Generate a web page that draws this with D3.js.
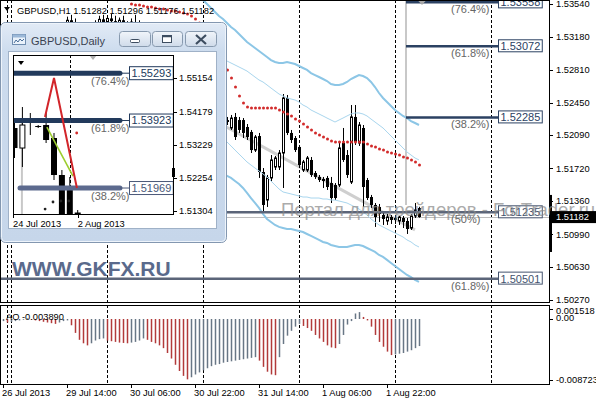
<!DOCTYPE html>
<html><head><meta charset="utf-8">
<script src="https://cdn.jsdelivr.net/npm/d3@7/dist/d3.min.js"></script>
<style>
html,body{margin:0;padding:0;background:#fff;}
svg{display:block;}
text{font-family:"Liberation Sans",Arial,sans-serif;}
</style></head><body>
<svg id="chart" width="596" height="400"></svg>
<script>
// ================= DATA =================
const headerText = "GBPUSD,H1 1.51282 1.51296 1.51176 1.51182";
const barStart = 14; // bar index of first candle
const barOpen = [1.5318,1.5320,1.5325,1.5336,1.5330,1.5324,1.5318,1.5322,1.5327,1.5331,
1.5333,1.5337,1.5334,1.5338,1.5335,1.5330,1.5336,1.5332,1.5322,1.5334,
1.5330,1.5316,1.5304,1.5295,1.5286,1.5280,1.5270,1.5260,1.5252,1.5258,
1.5249,1.5240,1.5244,1.5247,1.5242,1.5236,1.5240,1.5234,1.5229,1.5233,
1.5230,1.5225,1.52256,1.52168,1.52290,1.52256,1.52256,1.52179,1.52124,1.51924,
1.52079,1.51681,1.51371,1.51615,1.51736,1.51736,1.51891,1.52500,1.52113,1.52057,
1.51958,1.51703,1.51703,1.51814,1.51670,1.51626,1.51604,1.51615,1.51559,1.51537,
1.51537,1.52002,1.51869,1.51570,1.52290,1.52002,1.52168,1.51592,1.51404,1.51316,
1.51294,1.51205,1.51139,1.51183,1.51172,1.51139,1.51172,1.51139,1.51061,1.51194,
1.51282];
const barHigh = [1.5324,1.5328,1.5340,1.5342,1.5338,1.5330,1.5326,1.5330,1.5334,1.5336,
1.5341,1.5342,1.5340,1.5343,1.5341,1.5339,1.5341,1.5335,1.5338,1.5342,
1.5336,1.5320,1.5310,1.5300,1.5292,1.5285,1.5276,1.5268,1.5262,1.5264,
1.5256,1.5248,1.5252,1.5254,1.5250,1.5244,1.5246,1.5240,1.5238,1.5240,
1.5236,1.5232,1.52290,1.52312,1.52334,1.52290,1.52278,1.52212,1.52146,1.52090,
1.52113,1.51725,1.51648,1.51869,1.51858,1.51924,1.52544,1.52533,1.52146,1.52079,
1.51980,1.51814,1.51858,1.51847,1.51692,1.51648,1.51626,1.51637,1.51626,1.51559,
1.52002,1.52168,1.51924,1.52422,1.52422,1.52234,1.52201,1.51615,1.51427,1.51338,
1.51327,1.51227,1.51216,1.51205,1.51194,1.51194,1.51194,1.51172,1.51216,1.51338,
1.51296];
const barLow = [1.5312,1.5316,1.5322,1.5326,1.5320,1.5315,1.5310,1.5318,1.5320,1.5324,
1.5328,1.5330,1.5326,1.5331,1.5327,1.5325,1.5329,1.5318,1.5319,1.5328,
1.5312,1.5300,1.5290,1.5282,1.5274,1.5265,1.5255,1.5248,1.5240,1.5245,
1.5236,1.5230,1.5236,1.5238,1.5232,1.5228,1.5230,1.5224,1.5222,1.5226,
1.5220,1.5218,1.52201,1.52146,1.52035,1.52113,1.52057,1.52035,1.51891,1.51902,
1.51615,1.51238,1.51294,1.51570,1.51703,1.51703,1.51504,1.52090,1.52002,1.51902,
1.51725,1.51681,1.51681,1.51626,1.51604,1.51570,1.51504,1.51482,1.51338,1.51371,
1.51515,1.51792,1.51615,1.51548,1.51980,1.51969,1.51294,1.51371,1.51283,1.51073,
1.51128,1.51095,1.51095,1.51106,1.51106,1.51095,1.51061,1.50995,1.51039,1.51172,
1.51176];
const barClose = [1.5320,1.5325,1.5336,1.5330,1.5324,1.5318,1.5322,1.5327,1.5331,1.5333,
1.5337,1.5334,1.5338,1.5335,1.5330,1.5336,1.5332,1.5322,1.5334,1.5330,
1.5316,1.5304,1.5295,1.5286,1.5280,1.5270,1.5260,1.5252,1.5258,1.5249,
1.5240,1.5244,1.5247,1.5242,1.5236,1.5240,1.5234,1.5229,1.5233,1.5230,
1.5225,1.5227,1.52234,1.52278,1.52068,1.52146,1.52113,1.52068,1.51924,1.52068,
1.51681,1.51316,1.51615,1.51814,1.51836,1.51891,1.52500,1.52113,1.52035,1.51924,
1.51758,1.51792,1.51836,1.51648,1.51626,1.51592,1.51581,1.51515,1.51393,1.51393,
1.51947,1.51814,1.51648,1.52290,1.52013,1.52201,1.51515,1.51393,1.51316,1.51183,
1.51216,1.51161,1.51183,1.51150,1.51150,1.51183,1.51128,1.51050,1.51194,1.51261,
1.51182];

const sarStart = 32;
const sarValues = [1.53540,1.53529,1.53529,1.53518,1.53507,1.53507,1.53495,1.53484,1.53484,1.53473,1.53462,1.53462,1.53451,1.53440,1.53429,
1.53407,1.53374,1.53329,1.53274,1.53208,1.53130,1.53042,1.52953,1.52876,
1.52810,1.52721,1.52621,1.52522,1.52445,1.52400,
1.52389,1.52389,1.52389,1.52389,1.52389,1.52389,1.52389,
1.52367,1.52345,1.52323,1.52301,1.52267,1.52245,1.52212,1.52179,1.52146,1.52113,1.52090,1.52068,1.52046,1.52024,
1.52013,1.52013,1.52013,1.52013,1.52013,1.52013,1.52013,1.52013,
1.51991,1.51969,1.51958,1.51935,1.51924,1.51902,1.51891,1.51880,1.51869,1.51847,1.51836,1.51814,1.51792,1.51758];

const upperOuterStart = 50;
const upperOuter = [1.53584,1.53540,1.53495,1.53451,1.53407,1.53374,1.53329,1.53285,1.53252,1.53208,
1.53164,1.53119,1.53086,1.53053,1.53020,1.52987,1.52953,1.52920,1.52898,1.52887,
1.52887,1.52898,1.52887,1.52876,1.52854,1.52832,1.52810,1.52776,1.52754,1.52732,
1.52710,1.52688,1.52655,1.52644,1.52644,1.52655,1.52677,1.52710,1.52732,1.52754,
1.52743,1.52721,1.52677,1.52621,1.52555,1.52500,1.52456,1.52411,1.52367,1.52334,
1.52301,1.52278,1.52245,1.52223,1.52201];
const bandStart = 55;
const upperInner = [1.52931,1.52909,1.52887,1.52865,1.52843,1.52821,1.52798,1.52765,1.52732,1.52699,
1.52677,1.52644,1.52610,1.52577,1.52544,1.52522,1.52500,1.52489,1.52478,1.52456,
1.52422,1.52400,1.52367,1.52345,1.52323,1.52301,1.52278,1.52256,1.52234,1.52256,
1.52278,1.52301,1.52323,1.52334,1.52334,1.52323,1.52301,1.52267,1.52234,1.52201,
1.52168,1.52124,1.52079,1.52035,1.51991,1.51947,1.51902,1.51869,1.51836,1.51814];
const lowerInner = [1.52057,1.52013,1.51969,1.51924,1.51880,1.51836,1.51792,1.51758,1.51725,1.51692,
1.51659,1.51626,1.51581,1.51537,1.51493,1.51460,1.51449,1.51438,1.51427,1.51416,
1.51404,1.51404,1.51393,1.51393,1.51393,1.51382,1.51382,1.51371,1.51371,1.51360,
1.51349,1.51338,1.51316,1.51294,1.51272,1.51238,1.51205,1.51161,1.51128,1.51095,
1.51073,1.51050,1.51028,1.51006,1.50984,1.50962,1.50929,1.50907,1.50873,1.50851];
const lowerOuter = [1.51659,1.51637,1.51615,1.51581,1.51548,1.51504,1.51449,1.51393,1.51338,1.51283,
1.51216,1.51161,1.51128,1.51095,1.51073,1.51061,1.51050,1.51050,1.51039,1.51028,
1.51017,1.50995,1.50973,1.50951,1.50929,1.50907,1.50896,1.50873,1.50862,1.50851,
1.50851,1.50851,1.50862,1.50873,1.50873,1.50862,1.50840,1.50818,1.50796,1.50763,
1.50741,1.50708,1.50674,1.50641,1.50608,1.50575,1.50541,1.50519,1.50486,1.50464];

const aoValues = [-0.0003,-0.0005,-0.0004,-0.0003,-0.0002,-0.0001,0.0001,-0.0001,-0.0002,-0.0003,
-0.0004,-0.0005,-0.0006,-0.0007,-0.0005,-0.0003,-0.0002,-0.0009,-0.0020,-0.0030,
-0.0035,-0.0038,-0.0035,-0.0031,-0.0029,-0.0028,-0.0031,-0.0032,-0.0033,-0.0034,
-0.00345,-0.0035,-0.0034,-0.0033,-0.0031,-0.0028,-0.0030,-0.0033,-0.0035,-0.0038,
-0.0042,-0.0049,-0.0057,-0.0066,-0.0075,-0.0082,-0.0087,-0.0084,-0.0080,-0.0077,
-0.0074,-0.0071,-0.0068,-0.0066,-0.0065,-0.0063,-0.0062,-0.0061,-0.0060,-0.0059,
-0.0058,-0.0057,-0.0056,-0.0055,-0.0060,-0.0069,-0.0076,-0.0080,-0.0081,-0.0055,
-0.0036,-0.0024,-0.0017,-0.0011,-0.0007,-0.0010,-0.0013,-0.0017,-0.0023,-0.0028,
-0.0033,-0.0038,-0.0041,-0.0042,-0.0036,-0.0023,-0.0008,-0.0003,0.0008,0.0010,
0.0003,-0.0002,-0.0011,-0.0023,-0.0033,-0.0040,-0.0047,-0.0052,-0.0051,-0.0050,
-0.0049,-0.0047,-0.0045,-0.0042,-0.0039];
const aoLabel = "AO -0.003890";

const priceTicks = [1.53540,1.53180,1.52810,1.52450,1.52090,1.51720,1.51360,1.50990,1.50630,1.50270];
const aoTicks = [0.001518,0.0,-0.008723];
const aoTickLabels = ["0.001518","0.00","-0.008723"];
const timeLabels = ["26 Jul 2013","29 Jul 14:00","30 Jul 06:00","30 Jul 22:00","31 Jul 14:00","1 Aug 06:00","1 Aug 22:00"];
const timeLabelIdx = [0,16,32,48,64,80,96];
const daySeparatorIdx = [1,2,26,50,74,98,122];

const fibShortPrices = [1.53558,1.53072,1.52285];
const fibShortLabels = ["(76.4%)","(61.8%)","(38.2%)"];
const fibLongPrices = [1.51235,1.50501];
const fibLongLabels = ["(50%)","(61.8%)"];
const fibShortStartIdx = 100.75, fibLongStartIdx = -0.75, fibEndIdx = 123.75;
const fibAnchorPrices = [1.53600,1.51316];
const trendIdx = [50,103], trendPrice = [1.52320,1.51040];
const bidPrice = 1.51182;
const rangeMarker = [1.51427,1.50796];
const shiftIdx = 104.75;

const watermark = "Портал для трейдеров - ForTrader.ru";
const brand = "WWW.GKFX.RU";

// daily inset
const dailyTitle = "GBPUSD,Daily";
const dailyOpen  = [1.53706,1.53127,1.53909,1.53764,1.53793,1.53417,1.52346,1.51911,1.51260];
const dailyHigh  = [1.53880,1.54314,1.54141,1.53793,1.54141,1.53562,1.52490,1.52288,1.51332];
const dailyLow   = [1.52838,1.52577,1.53504,1.53706,1.53272,1.52201,1.51000,1.50900,1.51000];
const dailyClose = [1.53127,1.53793,1.53880,1.53735,1.53359,1.52346,1.51100,1.51000,1.51182];
const dailyTicks = [1.55154,1.54179,1.53229,1.52254,1.51304];
const dailyDates = ["24 Jul 2013","2 Aug 2013"];
const dailyDateIdx = [-0.19,8];
const dailyFibPrices = [1.55293,1.53923,1.51969];
const dailyFibLabels = ["(76.4%)","(61.8%)","(38.2%)"];
const dailyFibStartIdx = [-0.2,-0.2,0.7], dailyFibEndIdx = 13.35;
const zigzagIdx = [3.86,5.0,7.9], zigzagPrice = [1.54025,1.55154,1.51969];
const greenIdx = [4.1,7.4], greenPrice = [1.53735,1.52317];
const dailySarIdx = [4,5,6,7,8], dailySar = [1.51361,1.51564,1.51593,1.51593,1.53562];
const dailySeparatorIdx = 7, dailyAnchorIdx = 1;
const dailyMarker = [1.52548,1.52288];

// ================= DRAW =================
const svg = d3.select("#chart");
const defs = svg.append("defs");
defs.append("clipPath").attr("id","mainClip").append("rect").attr("x",1).attr("y",0).attr("width",548).attr("height",302);
defs.append("clipPath").attr("id","dClip").append("rect").attr("x",13).attr("y",55).attr("width",160).attr("height",159);
const fg = defs.append("linearGradient").attr("id","frameGrad").attr("x1",0).attr("y1",0).attr("x2",0).attr("y2",1);
fg.append("stop").attr("offset","0").attr("stop-color","#e2ebf6");
fg.append("stop").attr("offset","0.13").attr("stop-color","#cddcee");
fg.append("stop").attr("offset","1").attr("stop-color","#c6d6ea");
const bg = defs.append("linearGradient").attr("id","btnGrad").attr("x1",0).attr("y1",0).attr("x2",0).attr("y2",1);
bg.append("stop").attr("offset","0").attr("stop-color","#f1f5fa");
bg.append("stop").attr("offset","1").attr("stop-color","#cfdbea");

const x = d3.scaleLinear().domain([0,136.5]).range([3,549]);
const y = d3.scaleLinear().domain([1.50270,1.53540]).range([299.5,4]);
const yAO = d3.scaleLinear().domain([-0.008723,0.001518]).range([379.5,308.5]);
const crisp = v => Math.round(v)+0.5;

svg.append("rect").attr("width",596).attr("height",400).attr("fill","#fff");

// day separators
const sepG = svg.append("g");
daySeparatorIdx.forEach(i=>{
  sepG.append("line").attr("x1",crisp(x(i))).attr("x2",crisp(x(i))).attr("y1",0).attr("y2",384)
    .attr("stroke","#000").attr("stroke-width",1).attr("stroke-dasharray","3,2");
});

const main = svg.append("g").attr("clip-path","url(#mainClip)");

// fib anchor vertical + trendline
main.append("line").attr("x1",x(fibShortStartIdx)).attr("x2",x(fibShortStartIdx))
  .attr("y1",y(fibAnchorPrices[0])).attr("y2",y(fibAnchorPrices[1]))
  .attr("stroke","#c8c8c8").attr("stroke-width",2);
main.append("line").attr("x1",x(trendIdx[0])).attr("y1",y(trendPrice[0]))
  .attr("x2",x(trendIdx[1])).attr("y2",y(trendPrice[1]))
  .attr("stroke","#cfcfcf").attr("stroke-width",3);

// bid line
main.append("line").attr("x1",0).attr("x2",549).attr("y1",crisp(y(bidPrice))).attr("y2",crisp(y(bidPrice)))
  .attr("stroke","#bdbdbd").attr("stroke-width",1);

// candles
const candles = main.append("g");
barOpen.forEach((o,k)=>{
  const i = barStart+k, h=barHigh[k], l=barLow[k], c=barClose[k];
  const cx = x(i);
  candles.append("line").attr("x1",cx+0.5).attr("x2",cx+0.5).attr("y1",y(h)).attr("y2",y(l))
    .attr("stroke","#000").attr("stroke-width",1);
  const top = Math.min(y(o),y(c)), ht = Math.max(1,Math.abs(y(o)-y(c)));
  if (c>o) {
    candles.append("rect").attr("x",cx-0.5).attr("y",top).attr("width",2).attr("height",ht)
      .attr("fill","#fff").attr("stroke","#000").attr("stroke-width",1);
  } else {
    candles.append("rect").attr("x",cx-1).attr("y",top).attr("width",3).attr("height",ht).attr("fill","#000");
  }
});

// bands
const bandLine = start => d3.line().x((d,k)=>x(start+k)).y(d=>y(d));
main.append("path").attr("d",bandLine(upperOuterStart)(upperOuter)).attr("fill","none").attr("stroke","#8cc6e6").attr("stroke-width",2);
main.append("path").attr("d",bandLine(bandStart)(lowerOuter)).attr("fill","none").attr("stroke","#8cc6e6").attr("stroke-width",2);
main.append("path").attr("d",bandLine(bandStart)(upperInner)).attr("fill","none").attr("stroke","#a9d6ee").attr("stroke-width",1);
main.append("path").attr("d",bandLine(bandStart)(lowerInner)).attr("fill","none").attr("stroke","#a9d6ee").attr("stroke-width",1);

// fib lines
fibShortPrices.forEach(p=>{
  main.append("line").attr("x1",x(fibShortStartIdx)).attr("x2",x(fibEndIdx)).attr("y1",y(p)).attr("y2",y(p))
    .attr("stroke","#2b4162").attr("stroke-width",2.5);
});
fibLongPrices.forEach(p=>{
  main.append("line").attr("x1",x(fibLongStartIdx)).attr("x2",x(fibEndIdx)).attr("y1",y(p)).attr("y2",y(p))
    .attr("stroke","#5b6579").attr("stroke-width",2.5);
});

// SAR dots
sarValues.forEach((v,k)=>{
  main.append("circle").attr("cx",x(sarStart+k)+0.5).attr("cy",y(v)).attr("r",1.5).attr("fill","#d22b2b");
});

// fib labels
const fibLab = (p,lab,col)=>{
  const t = main.append("text").attr("x",x(fibEndIdx)+2.5).attr("y",y(p)).attr("dy","0.36em")
    .attr("font-size",11).attr("fill",col).text(p.toFixed(5));
  const w = t.node().getComputedTextLength();
  main.insert("rect","text").attr("x",x(fibEndIdx)+0.5).attr("y",y(p)-6.5).attr("width",w+4).attr("height",12)
    .attr("fill","#fff").attr("stroke",col).attr("stroke-width",1);
  main.append("text").attr("x",451).attr("y",y(p)+11).attr("font-size",11).attr("fill","#666").text(lab);
};
fibShortPrices.forEach((p,k)=>fibLab(p,fibShortLabels[k],"#2b4162"));
fibLongPrices.forEach((p,k)=>fibLab(p,fibLongLabels[k],"#44536e"));
main.selectAll("text").raise();

// header
main.append("path").attr("d","M4,7 L10,7 L7,11 Z").attr("fill","#000");
main.append("text").attr("x",17).attr("y",14).attr("font-size",9.3).attr("fill","#000").text(headerText);
// shift marker
main.append("path").attr("d",`M${x(shiftIdx)-4.5},0 L${x(shiftIdx)+4.5},0 L${x(shiftIdx)},5 Z`).attr("fill","#a8a8a8");

// frames
svg.append("rect").attr("x",0.5).attr("y",0.5).attr("width",549).attr("height",302).attr("fill","none").attr("stroke","#000");
svg.append("rect").attr("x",0.5).attr("y",305.5).attr("width",549).attr("height",79).attr("fill","none").attr("stroke","#000");

// right axis
priceTicks.forEach(p=>{
  const yy = crisp(y(p));
  svg.append("line").attr("x1",549).attr("x2",553).attr("y1",yy).attr("y2",yy).attr("stroke","#000");
  svg.append("text").attr("x",556).attr("y",y(p)).attr("dy","0.35em").attr("font-size",9.3).text(p.toFixed(5));
});
svg.append("rect").attr("x",549).attr("y",y(rangeMarker[0])).attr("width",3).attr("height",y(rangeMarker[1])-y(rangeMarker[0])).attr("fill","#000");

// watermark (spans over the price scale)
svg.append("text").attr("x",281).attr("y",216).attr("font-size",18.5).attr("fill","#888")
  .attr("opacity",0.7).text(watermark);

svg.append("rect").attr("x",550).attr("y",y(bidPrice)-6).attr("width",46).attr("height",12).attr("fill","#000");
svg.append("text").attr("x",556).attr("y",y(bidPrice)).attr("dy","0.35em").attr("font-size",9.3).attr("fill","#fff").text(bidPrice.toFixed(5));

// AO
const aoG = svg.append("g");
aoValues.forEach((v,i)=>{
  const col = (i>0 && v<aoValues[i-1]) ? "#b23a3a" : "#687685";
  aoG.append("line").attr("x1",x(i)+0.5).attr("x2",x(i)+0.5).attr("y1",yAO(0)).attr("y2",yAO(v))
    .attr("stroke",col).attr("stroke-width",1.5);
});
svg.append("text").attr("x",6).attr("y",320).attr("font-size",9.3).text(aoLabel);
aoTicks.forEach((v,k)=>{
  const yy = k===0 ? yAO(v)+2.5 : (k===1 ? yAO(v)-1 : yAO(v));
  svg.append("line").attr("x1",549).attr("x2",553).attr("y1",crisp(yAO(v))).attr("y2",crisp(yAO(v))).attr("stroke","#000");
  svg.append("text").attr("x",556).attr("y",yy).attr("dy","0.35em").attr("font-size",9.3).text(aoTickLabels[k]);
});

// time axis
timeLabelIdx.forEach((i,k)=>{
  svg.append("line").attr("x1",crisp(x(i))).attr("x2",crisp(x(i))).attr("y1",384).attr("y2",388).attr("stroke","#000");
  svg.append("text").attr("x",x(i)-1).attr("y",396).attr("font-size",9.3).text(timeLabels[k]);
});

// ================= INSET WINDOW =================
const dx = d3.scaleLinear().domain([0,8]).range([14.5,77.7]);
const dy = d3.scaleLinear().domain([1.51304,1.55154]).range([211,78]);
const win = svg.append("g");
win.append("rect").attr("x",0.5).attr("y",22.5).attr("width",226).attr("height",220).attr("rx",5)
  .attr("fill","url(#frameGrad)").attr("stroke","#8397b0");
win.append("rect").attr("x",1.5).attr("y",23.5).attr("width",224).attr("height",218).attr("rx",4)
  .attr("fill","none").attr("stroke","#eef4fb").attr("stroke-width",1);
win.append("rect").attr("x",8.5).attr("y",51.5).attr("width",208).attr("height",177)
  .attr("fill","#fff").attr("stroke","#9fb1c7");
// icon
win.append("rect").attr("x",12.5).attr("y",34.5).attr("width",13).attr("height",10).attr("fill","#eaf2fb").attr("stroke","#6f8db0");
win.append("rect").attr("x",12.5).attr("y",34.5).attr("width",13).attr("height",3).attr("fill","#9bb8d8");
win.append("path").attr("d","M14,43 L16,40 L18,42 L20,39 L22,41 L24,39").attr("fill","none").attr("stroke","#4b6f99").attr("stroke-width",1);
win.append("text").attr("x",31).attr("y",45).attr("font-size",11).attr("fill","#3a4250").text(dailyTitle);
// buttons
[[119.5,31],[152.5,30],[185.5,31]].forEach(([bx,bw])=>{
  win.append("rect").attr("x",bx).attr("y",31.5).attr("width",bw).attr("height",15).attr("rx",3)
    .attr("fill","url(#btnGrad)").attr("stroke","#8799ae");
});
win.append("rect").attr("x",130.5).attr("y",39.5).attr("width",9).attr("height",3).attr("rx",1).attr("fill","#fff").attr("stroke","#3d4d60");
win.append("rect").attr("x",162.5).attr("y",35.5).attr("width",9).attr("height",7).attr("fill","#fff").attr("stroke","#3d4d60");
win.append("line").attr("x1",162.5).attr("x2",171.5).attr("y1",36.5).attr("y2",36.5).attr("stroke","#3d4d60").attr("stroke-width",1.5);
win.append("path").attr("d","M196,35 L206,44 M206,35 L196,44").attr("stroke","#3d4d60").attr("stroke-width",2.2);

const ip = win.append("g").attr("clip-path","url(#dClip)");
ip.append("line").attr("x1",crisp(dx(dailySeparatorIdx))).attr("x2",crisp(dx(dailySeparatorIdx))).attr("y1",55).attr("y2",214)
  .attr("stroke","#000").attr("stroke-dasharray","3,2");
ip.append("line").attr("x1",dx(dailyAnchorIdx)-0.5).attr("x2",dx(dailyAnchorIdx)-0.5).attr("y1",dy(dailyFibPrices[1])).attr("y2",214)
  .attr("stroke","#c8c8c8").attr("stroke-width",2);
// daily candles
dailyOpen.forEach((o,i)=>{
  const h=dailyHigh[i], l=dailyLow[i], c=dailyClose[i], cx=dx(i);
  ip.append("line").attr("x1",cx).attr("x2",cx).attr("y1",dy(h)).attr("y2",dy(l)).attr("stroke","#000");
  const top=Math.min(dy(o),dy(c)), ht=Math.max(1,Math.abs(dy(o)-dy(c)));
  if (c>o) ip.append("rect").attr("x",cx-2.5).attr("y",top).attr("width",5).attr("height",ht).attr("fill","#fff").attr("stroke","#000");
  else ip.append("rect").attr("x",cx-3).attr("y",top).attr("width",6).attr("height",ht).attr("fill","#000");
});
// fib lines
dailyFibPrices.forEach((p,k)=>{
  ip.append("line").attr("x1",dx(dailyFibStartIdx[k])).attr("x2",dx(dailyFibEndIdx)).attr("y1",dy(p)).attr("y2",dy(p))
    .attr("stroke",k<2?"#223a5c":"#5c6a8e").attr("stroke-width",5).attr("stroke-linecap","round");
});
// zigzag and green
const dl = d3.line().x(d=>dx(d[0])).y(d=>dy(d[1]));
ip.append("path").attr("d",dl(greenIdx.map((v,k)=>[v,greenPrice[k]]))).attr("fill","none").attr("stroke","#9ccd2e").attr("stroke-width",1.6);
ip.append("path").attr("d",dl(zigzagIdx.map((v,k)=>[v,zigzagPrice[k]]))).attr("fill","none").attr("stroke","#d2252a").attr("stroke-width",2);
dailySar.forEach((v,k)=>{
  ip.append("circle").attr("cx",dx(dailySarIdx[k])-1).attr("cy",dy(v)).attr("r",1.4).attr("fill",k===dailySar.length-1?"#d22b2b":"#222");
});
// fib labels
dailyFibPrices.forEach((p,k)=>{
  const col = k<2?"#223a5c":"#4a5878";
  ip.append("line").attr("x1",dx(dailyFibEndIdx)).attr("x2",129).attr("y1",dy(p)).attr("y2",dy(p)).attr("stroke",col);
  const t = ip.append("text").attr("x",131.5).attr("y",dy(p)).attr("dy","0.36em").attr("font-size",11).attr("fill",col).text(p.toFixed(5));
  const w = t.node().getComputedTextLength();
  ip.insert("rect","text").attr("x",129.5).attr("y",dy(p)-6.5).attr("width",w+4).attr("height",13).attr("fill","#fff").attr("stroke",col);
  ip.append("text").attr("x",91).attr("y",dy(p)+11.5).attr("font-size",11).attr("fill","#666").text(dailyFibLabels[k]);
});
ip.selectAll("text").raise();
ip.append("path").attr("d","M18,61 L24,61 L21,65 Z").attr("fill","#000");
ip.append("path").attr("d","M89,55 L97,55 L93,60 Z").attr("fill","#b0b0b0");
// inset frame and axes
win.append("rect").attr("x",13.5).attr("y",55.5).attr("width",160).attr("height",159).attr("fill","none").attr("stroke","#000");
dailyTicks.forEach(p=>{
  win.append("line").attr("x1",173).attr("x2",177).attr("y1",crisp(dy(p))).attr("y2",crisp(dy(p))).attr("stroke","#000");
  win.append("text").attr("x",179).attr("y",dy(p)).attr("dy","0.35em").attr("font-size",9.3).text(p.toFixed(5));
});
win.append("rect").attr("x",172).attr("y",dy(dailyMarker[0])).attr("width",3).attr("height",dy(dailyMarker[1])-dy(dailyMarker[0])).attr("fill","#000");
dailyDates.forEach((t,k)=>{
  const xx = dx(dailyDateIdx[k]);
  win.append("line").attr("x1",crisp(xx)).attr("x2",crisp(xx)).attr("y1",214).attr("y2",218).attr("stroke","#000");
  win.append("text").attr("x",xx).attr("y",227).attr("font-size",9.3).text(t);
});

// brand
svg.append("text").attr("x",12).attr("y",276).attr("font-size",21).attr("font-weight","bold")
  .attr("fill","#5a6a8c").text(brand);
</script>
</body></html>
